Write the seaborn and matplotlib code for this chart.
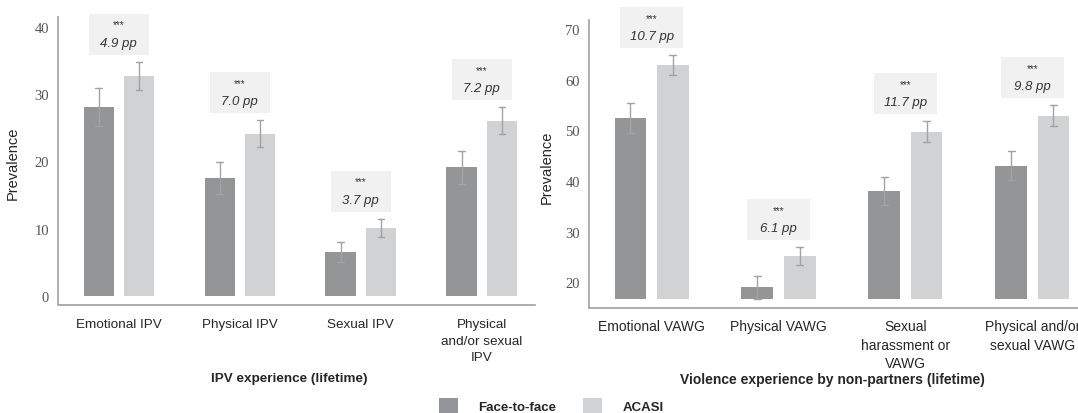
import numpy as np
import pandas as pd
import matplotlib
matplotlib.use("Agg")
import matplotlib.pyplot as plt
import matplotlib.transforms as mtransforms
from matplotlib.patches import Rectangle, Patch
import seaborn as sns

# ---------------- data ----------------
methods = ["Face-to-face", "ACASI"]

left_cats = ["Emotional IPV", "Physical IPV", "Sexual IPV", "Physical\nand/or sexual\nIPV"]
left_ftf = [28.0, 17.5, 6.5, 19.1]
left_ftf_err = [2.8, 2.4, 1.5, 2.45]
left_acasi = [32.7, 24.1, 10.1, 26.0]
left_acasi_err = [2.1, 2.0, 1.4, 2.0]
left_diff = ["4.9 pp", "7.0 pp", "3.7 pp", "7.2 pp"]
left_sig = ["***", "***", "***", "***"]
left_title = "IPV experience (lifetime)"
left_ticks = [0, 10, 20, 30, 40]

right_cats = ["Emotional VAWG", "Physical VAWG", "Sexual\nharassment or\nVAWG",
              "Physical and/or\nsexual VAWG"]
right_ftf = [52.4, 19.0, 38.0, 43.0]
right_ftf_err = [2.9, 2.3, 2.8, 2.9]
right_acasi = [62.9, 25.2, 49.7, 52.9]
right_acasi_err = [2.0, 1.8, 2.1, 2.1]
right_diff = ["10.7 pp", "6.1 pp", "11.7 pp", "9.8 pp"]
right_sig = ["***", "***", "***", "***"]
right_title = "Violence experience by non-partners (lifetime)"
right_ticks = [20, 30, 40, 50, 60, 70]
right_base = 16.7

# ---------------- style ----------------
sns.set_theme(style="white")
plt.rcParams["font.family"] = ["Liberation Sans", "DejaVu Sans"]

FTF_COLOR = "#939598"
ACASI_COLOR = "#d1d2d4"
BOX_COLOR = "#f1f1f2"
ERR_COLOR = "#a3a3a3"
SPINE_COLOR = "#a0a0a0"
TEXT_COLOR = "#262626"

DPI = 100
fig = plt.figure(figsize=(10.78, 4.14), dpi=DPI)
W, H = 1078, 414


def long_form(cats, ftf, ftf_err, acasi, acasi_err):
    rows = []
    for c, v, e in zip(cats, ftf, ftf_err):
        rows += [(c, methods[0], v - e), (c, methods[0], v + e)]
    for c, v, e in zip(cats, acasi, acasi_err):
        rows += [(c, methods[1], v - e), (c, methods[1], v + e)]
    return pd.DataFrame(rows, columns=["cat", "method", "val"])


def panel(rect_px, ylim, xlim, cats, ftf, ftf_err, acasi, acasi_err, diffs, sigs,
          ticks, title, base, ylabel_xy_px, title_xy_px, xfs, xpad, lsp):
    l, t, r, b = rect_px
    ax = fig.add_axes([l / W, 1 - b / H, (r - l) / W, (b - t) / H])
    df = long_form(cats, ftf, ftf_err, acasi, acasi_err)
    sns.barplot(data=df, x="cat", y="val", hue="method", order=cats,
                hue_order=methods, palette=[FTF_COLOR, ACASI_COLOR],
                width=0.667, gap=0.25, errorbar=("pi", 100), capsize=0.11,
                err_kws={"color": ERR_COLOR, "linewidth": 1.0},
                linewidth=0, legend=False, ax=ax)
    if base is not None:
        for p in ax.patches:
            h = p.get_height()
            p.set_y(base)
            p.set_height(h - base)
    ax.set_ylim(*ylim)
    ax.set_xlim(*xlim)
    ax.set_yticks(ticks)
    ax.set_yticklabels([str(v) for v in ticks], family="Liberation Serif",
                       fontsize=10.5, color="#555555")
    ax.set_xticks(range(len(cats)))
    ax.set_xticklabels(cats, fontsize=xfs, color=TEXT_COLOR, linespacing=lsp)
    ax.tick_params(axis="both", length=0)
    ax.tick_params(axis="y", pad=6.5)
    ax.tick_params(axis="x", pad=xpad)
    for s in ["top", "right"]:
        ax.spines[s].set_visible(False)
    for s in ["left", "bottom"]:
        ax.spines[s].set_color(SPINE_COLOR)
        ax.spines[s].set_linewidth(1.2)
    ax.set_xlabel("")
    ax.set_ylabel("")
    ax.grid(False)

    # y label
    fig.text(ylabel_xy_px[0] / W, 1 - ylabel_xy_px[1] / H, "Prevalence", rotation=90,
             ha="center", va="center", fontsize=10.5, color=TEXT_COLOR)
    # panel title
    fig.text(title_xy_px[0] / W, 1 - title_xy_px[1] / H,
             title, ha="center", va="center", fontsize=xfs, fontweight="bold",
             color=TEXT_COLOR)

    # annotation boxes
    fig.canvas.draw()
    bbox = ax.get_window_extent()
    ppu_x = bbox.width / (xlim[1] - xlim[0])
    box_w = 0.5 * ppu_x / DPI          # inches
    box_h = 41 / DPI
    gap = 7 / DPI
    for i, (v, e, d, s) in enumerate(zip(acasi, acasi_err, diffs, sigs)):
        top = v + e
        tr = fig.dpi_scale_trans + mtransforms.ScaledTranslation(i, top, ax.transData)
        ax.add_patch(Rectangle((-box_w / 2, gap), box_w, box_h, transform=tr,
                               facecolor=BOX_COLOR, edgecolor="none",
                               clip_on=False, zorder=3))
        ax.annotate(s, xy=(i, top), xytext=(0, (7 + 30) * 72 / DPI),
                    textcoords="offset points", ha="center", va="center",
                    fontsize=7, color="#333333", zorder=4, annotation_clip=False)
        ax.annotate(d, xy=(i, top), xytext=(0, (7 + 12) * 72 / DPI),
                    textcoords="offset points", ha="center", va="center",
                    fontsize=9.5, style="italic", color="#333333", zorder=4,
                    annotation_clip=False)
    return ax


# left panel: pixel rect (left, top, right, bottom)
panel((58, 18, 535, 305.5), (-1.26, 41.41), (-0.503, 3.44),
      left_cats, left_ftf, left_ftf_err, left_acasi, left_acasi_err,
      left_diff, left_sig, left_ticks, left_title, None,
      (13, 163), (289, 379), 9.7, 10, 1.5)

panel((589, 20.7, 1078, 309), (14.93, 71.84), (-0.493, 3.36),
      right_cats, right_ftf, right_ftf_err, right_acasi, right_acasi_err,
      right_diff, right_sig, right_ticks, right_title, right_base,
      (547, 167), (832, 380), 10, 8, 1.4)

handles = [Patch(facecolor=FTF_COLOR, edgecolor="none"),
           Patch(facecolor=ACASI_COLOR, edgecolor="none")]
fig.legend(handles, methods, ncol=2, loc="center",
           bbox_to_anchor=(551 / W, 1 - 407 / H), frameon=False,
           prop={"weight": "bold", "size": 9.5},
           handlelength=1.5, handleheight=1.5, handletextpad=1.5,
           columnspacing=2.0, labelcolor=TEXT_COLOR)

fig.savefig("out.png", dpi=DPI)
